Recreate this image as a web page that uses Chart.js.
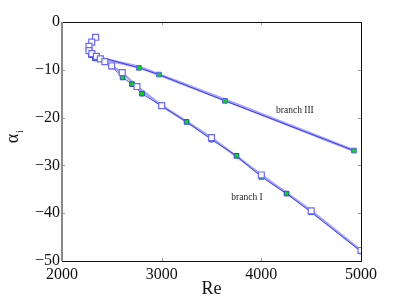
<!DOCTYPE html>
<html><head><meta charset="utf-8">
<script src="https://cdn.jsdelivr.net/npm/chart.js@4/dist/chart.umd.min.js"></script>
<style>html,body{margin:0;padding:0;background:#fff}canvas{display:block}</style>
</head><body>
<canvas id="c" width="399" height="300"></canvas>
<script>
// Branch I – green squares (dark line)
const reIGreen = [2290, 2330, 2500, 2608, 2702, 2803, 3250, 3500, 3751, 4000, 4253, 4500, 5000];
const aiIGreen = [-6.9, -7.6, -9.3, -11.6, -13.0, -15.0, -20.9, -24.6, -28.0, -32.4, -35.9, -39.8, -48.0];
// Branch I – open squares (light line)
const reIOpen = [2337, 2298, 2271, 2271, 2300, 2345, 2385, 2430, 2498, 2604, 2752, 3000, 3500, 4000, 4500, 5000];
const aiIOpen = [-3.2, -4.2, -5.1, -6.0, -6.6, -7.2, -7.7, -8.3, -9.2, -10.6, -13.5, -17.5, -24.2, -32.0, -39.5, -47.8];
// Branch III – green squares
const reIII = [2290, 2772, 2973, 3635, 4929];
const aiIII = [-6.8, -9.6, -11.0, -16.5, -26.9];
// Branch III – light companion line
const reIIIb = [2300, 2772, 2973, 3635, 4929];
const aiIIIb = [-7.2, -9.4, -11.0, -16.3, -26.9];

const xTicks = [2000, 3000, 4000, 5000];
const yTicks = [0, -10, -20, -30, -40, -50];
const labels = [{text: 'branch III', x: 4337, y: -18.5}, {text: 'branch I', x: 3856, y: -36.7}];

const pts = (xs, ys) => xs.map((x, i) => ({x, y: ys[i]}));
const light = '#a4a4f6', dark = '#2020ff';

const framePlugin = {
  id: 'frame',
  afterDraw(chart) {
    const {ctx, chartArea: a, scales: {x, y}} = chart;
    ctx.save();
    ctx.strokeStyle = '#999';
    ctx.lineWidth = 1;
    yTicks.forEach(v => {
      const py = Math.round(y.getPixelForValue(v)) + 0.5;
      ctx.beginPath(); ctx.moveTo(a.left, py); ctx.lineTo(a.left + 3, py); ctx.stroke();
      ctx.beginPath(); ctx.moveTo(a.right, py); ctx.lineTo(a.right - 3, py); ctx.stroke();
    });
    xTicks.forEach(v => {
      const px = Math.round(x.getPixelForValue(v)) + 0.5;
      ctx.beginPath(); ctx.moveTo(px, a.bottom); ctx.lineTo(px, a.bottom - 3); ctx.stroke();
      ctx.beginPath(); ctx.moveTo(px, a.top); ctx.lineTo(px, a.top + 3); ctx.stroke();
    });
    ctx.strokeStyle = '#111';
    ctx.lineWidth = 1;
    ctx.strokeRect(Math.round(a.left) + 0.5, Math.round(a.top) + 0.5, Math.round(a.right - a.left), Math.round(a.bottom - a.top));
    ctx.strokeStyle = '#888';
    ctx.lineWidth = 2;
    ctx.beginPath(); ctx.moveTo(Math.round(a.left), a.top); ctx.lineTo(Math.round(a.left), a.bottom); ctx.stroke();
    // annotations
    ctx.fillStyle = '#222';
    ctx.font = '9.5px "Liberation Serif", serif';
    ctx.textAlign = 'center'; ctx.textBaseline = 'middle';
    labels.forEach(l => ctx.fillText(l.text, x.getPixelForValue(l.x), y.getPixelForValue(l.y)));
    // axis titles
    ctx.fillStyle = '#111';
    ctx.font = '18px "Liberation Serif", serif';
    ctx.fillText('Re', (a.left + a.right) / 2, 289);
    ctx.save();
    ctx.translate(13, (a.top + a.bottom) / 2 - 3);
    ctx.rotate(-Math.PI / 2);
    ctx.textAlign = 'center';
    ctx.fillText('α', 0, 0);
    ctx.font = '10px "Liberation Serif", serif';
    ctx.fillText('i', 7, 7);
    ctx.restore();
    ctx.restore();
  }
};

new Chart(document.getElementById('c'), {
  type: 'scatter',
  data: {
    datasets: [
      {data: pts(reIIIb, aiIIIb), showLine: true, borderColor: light, borderWidth: 3, pointRadius: 0, order: 5},
      {data: pts(reIOpen, aiIOpen), showLine: true, borderColor: light, borderWidth: 2.5, pointRadius: 0, order: 4},
      {data: pts(reIII, aiIII), showLine: true, borderColor: dark, borderWidth: 0.8, pointStyle: 'rect', pointRadius: 3.3,
       pointBackgroundColor: '#00e000', pointBorderColor: '#5a5aff', pointBorderWidth: 1, order: 3},
      {data: pts(reIGreen, aiIGreen), showLine: true, borderColor: dark, borderWidth: 0.8, pointStyle: 'rect', pointRadius: 3.3,
       pointBackgroundColor: '#00e000', pointBorderColor: '#3a3aff', pointBorderWidth: 1, order: 2},
      {data: pts(reIOpen, aiIOpen), showLine: false, pointStyle: 'rect', pointRadius: 4.2,
       pointBackgroundColor: '#ffffff', pointBorderColor: '#6a6aff', pointBorderWidth: 1.2, order: 1}
    ]
  },
  options: {
    responsive: false,
    animation: false,
    devicePixelRatio: 1,
    layout: {padding: {left: 0, right: 38, top: 22, bottom: 0}},
    plugins: {legend: {display: false}, tooltip: {enabled: false}},
    scales: {
      x: {
        type: 'linear', min: 2000, max: 5000,
        afterBuildTicks: s => { s.ticks = xTicks.map(v => ({value: v})); },
        afterFit: s => { s.height = 39; },
        grid: {display: false, drawTicks: false}, border: {display: false},
        ticks: {padding: 4, color: '#111', font: {family: '"Liberation Serif", serif', size: 16}, maxRotation: 0,
                callback: v => String(v)}
      },
      y: {
        type: 'linear', min: -50, max: 0,
        afterBuildTicks: s => { s.ticks = yTicks.map(v => ({value: v})); },
        afterFit: s => { s.width = 62; },
        grid: {display: false, drawTicks: false}, border: {display: false},
        ticks: {padding: 2, color: '#111', font: {family: '"Liberation Serif", serif', size: 16},
                callback: v => String(v).replace('-', '\u2212')}
      }
    }
  },
  plugins: [framePlugin]
});
</script>
</body></html>
